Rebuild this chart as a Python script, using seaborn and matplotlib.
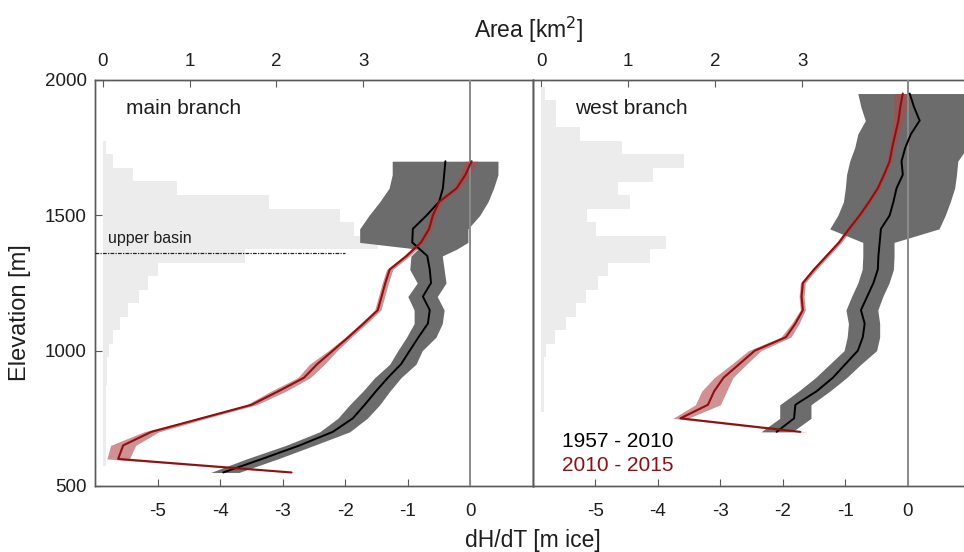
import numpy as np
import pandas as pd
import matplotlib
matplotlib.use("Agg")
import matplotlib.pyplot as plt
import seaborn as sns

sns.set_style("white")
plt.rcParams['font.family'] = ['Liberation Sans', 'DejaVu Sans']
plt.rcParams['axes.unicode_minus'] = False

# --- hypsometry (area per 50 m band, km2) ---
hist_elev_main = [600, 650, 700, 750, 800, 850, 900, 950, 1000, 1050, 1100, 1150,
                  1200, 1250, 1300, 1350, 1400, 1450, 1500, 1550, 1600, 1650, 1700, 1750]
hist_area_main = [0.03, 0.03, 0.03, 0.04, 0.04, 0.04, 0.05, 0.05, 0.07, 0.12, 0.20, 0.29,
                  0.41, 0.52, 0.64, 1.64, 3.17, 2.89, 2.73, 1.91, 0.85, 0.35, 0.12, 0.03]

hist_elev_west = [800, 850, 900, 950, 1000, 1050, 1100, 1150, 1200, 1250, 1300, 1350,
                  1400, 1450, 1500, 1550, 1600, 1650, 1700, 1750, 1800, 1850, 1900, 1950]
hist_area_west = [0.03, 0.03, 0.04, 0.04, 0.06, 0.16, 0.29, 0.40, 0.52, 0.65, 0.77, 1.25,
                  1.44, 0.63, 0.53, 1.02, 0.89, 1.29, 1.64, 0.93, 0.45, 0.17, 0.17, 0.05]

# --- main branch, 1957-2010 ---
elev57_main = [550, 600, 650, 700, 750, 800, 850, 900, 950, 1000, 1050, 1100, 1150,
               1200, 1250, 1300, 1350, 1375, 1400, 1450, 1500, 1550, 1600, 1650, 1700]
dh57_main = [-3.95, -3.33, -2.73, -2.20, -1.88, -1.69, -1.51, -1.32, -1.11, -0.97, -0.83, -0.68, -0.65,
             -0.76, -0.63, -0.65, -0.69, -0.81, -0.93, -0.92, -0.70, -0.50, -0.44, -0.42, -0.40]
lo57_main = [-4.15, -3.58, -2.95, -2.41, -2.12, -1.93, -1.72, -1.53, -1.29, -1.16, -1.02, -0.90, -0.90,
             -1.00, -0.85, -0.97, -0.95, -0.84, -1.77, -1.77, -1.62, -1.45, -1.30, -1.25, -1.25]
hi57_main = [-3.70, -3.08, -2.50, -1.93, -1.65, -1.45, -1.29, -1.11, -0.87, -0.77, -0.55, -0.45, -0.42,
             -0.53, -0.39, -0.42, -0.45, -0.22, -0.04, -0.04, 0.15, 0.28, 0.37, 0.44, 0.44]

# --- main branch, 2010-2015 ---
elev15_main = [550, 600, 650, 700, 750, 800, 850, 900, 950, 1000, 1050, 1100,
               1150, 1200, 1250, 1300, 1350, 1400, 1450, 1500, 1550, 1600, 1650, 1700]
dh15_main = [-2.86, -5.63, -5.55, -5.10, -4.30, -3.50, -3.07, -2.66, -2.45, -2.20, -1.95, -1.71,
             -1.48, -1.42, -1.36, -1.29, -1.02, -0.79, -0.66, -0.60, -0.50, -0.22, -0.08, 0.02]
err15_main = [0.08, 0.18, 0.20, 0.12, 0.08, 0.08, 0.12, 0.10, 0.12, 0.07, 0.05, 0.05,
              0.05, 0.05, 0.05, 0.05, 0.05, 0.05, 0.05, 0.05, 0.06, 0.06, 0.08, 0.10]

# --- west branch ---
elev_west = [700, 750, 800, 850, 900, 950, 1000, 1050, 1100, 1150, 1200, 1250, 1300,
             1350, 1400, 1450, 1500, 1550, 1600, 1650, 1700, 1750, 1800, 1850, 1900, 1950]
dh57_west = [-2.10, -1.82, -1.80, -1.46, -1.20, -1.00, -0.80, -0.72, -0.69, -0.75, -0.65, -0.55, -0.48,
             -0.47, -0.45, -0.43, -0.29, -0.23, -0.18, -0.08, -0.10, -0.04, 0.05, 0.19, 0.10, 0.03]
lo57_west = [-2.35, -2.05, -2.05, -1.75, -1.48, -1.25, -1.02, -0.97, -0.95, -0.99, -0.90, -0.80, -0.73,
             -0.72, -0.72, -1.25, -1.12, -1.03, -1.00, -0.98, -0.93, -0.85, -0.80, -0.68, -0.75, -0.80]
hi57_west = [-1.85, -1.55, -1.55, -1.25, -0.98, -0.75, -0.50, -0.45, -0.45, -0.48, -0.40, -0.30, -0.23,
             -0.22, -0.22, 0.50, 0.60, 0.68, 0.75, 0.78, 0.80, 0.95, 1.00, 1.00, 1.00, 1.00]
dh15_west = [-1.72, -3.64, -3.20, -3.10, -2.95, -2.70, -2.45, -1.95, -1.80, -1.68, -1.70, -1.68, -1.50,
             -1.30, -1.10, -0.94, -0.77, -0.62, -0.48, -0.38, -0.29, -0.25, -0.20, -0.15, -0.12, -0.08]
err15_west = [0.10, 0.12, 0.20, 0.20, 0.15, 0.12, 0.10, 0.08, 0.06, 0.04, 0.04, 0.04, 0.04,
              0.04, 0.04, 0.04, 0.04, 0.04, 0.04, 0.04, 0.04, 0.05, 0.06, 0.08, 0.10, 0.14]

c_band = '#6c6c6c'
c_red = '#8e1010'
c_hist = '#ececec'
c_axis = '#5a5a5a'
c_text = '#1e1e1e'

fig = plt.figure(figsize=(9.64, 5.52), dpi=100)
axL = fig.add_axes([95/964, 66/552, 438/964, 406/552])
axR = fig.add_axes([533/964, 66/552, 431/964, 406/552])


def panel(ax, h_elev, h_area, e57, d57, lo57, hi57, e15, d15, err15, xmax_dh, xmax_area):
    # histogram of area, read on the top axis
    hdf = pd.DataFrame({'elev': h_elev, 'area': h_area})
    sns.barplot(data=hdf, x='area', y='elev', orient='y', native_scale=True, width=1.0,
                color=c_hist, saturation=1, linewidth=0, ax=ax, zorder=1)
    ax.set_xlim(-0.092, xmax_area)
    ax.set_ylim(500, 2000)
    ax.set_xticks([0, 1, 2, 3])
    ax.set_xlabel('')
    ax.set_ylabel('')

    axd = ax.twiny()
    axd.fill_betweenx(e57, lo57, hi57, color=c_band, lw=0, zorder=2)
    lo15 = np.array(d15) - np.array(err15)
    hi15 = np.array(d15) + np.array(err15)
    axd.fill_betweenx(e15, lo15, hi15, color='#b04848', alpha=0.6, lw=0, zorder=3)
    axd.axvline(0, color='#8a8a8a', lw=1.4, zorder=4)
    sns.lineplot(x=d57, y=e57, orient='y', color='black', lw=1.4, errorbar=None, ax=axd, zorder=5)
    sns.lineplot(x=d15, y=e15, orient='y', color=c_red, lw=1.5, errorbar=None, ax=axd, zorder=6)
    axd.set_xlim(-6, xmax_dh)
    axd.set_ylim(500, 2000)
    axd.set_xticks([-5, -4, -3, -2, -1, 0])
    axd.set_xlabel('')
    axd.set_ylabel('')

    for a in (ax, axd):
        for s in a.spines.values():
            s.set_color(c_axis)
            s.set_linewidth(1.0)
    ax.tick_params(axis='x', direction='in', length=5, width=0.8, colors=c_axis,
                   labelcolor=c_text, labelsize=13.5, pad=7,
                   top=True, bottom=False, labeltop=True, labelbottom=False)
    axd.tick_params(axis='x', direction='in', length=5, width=0.8, colors=c_axis,
                    labelcolor=c_text, labelsize=13.5, pad=12,
                    top=False, bottom=True, labeltop=False, labelbottom=True)
    return axd


axLd = panel(axL, hist_elev_main, hist_area_main, elev57_main, dh57_main, lo57_main, hi57_main,
             elev15_main, dh15_main, err15_main, 1.0, 4.96)
axRd = panel(axR, hist_elev_west, hist_area_west, elev_west, dh57_west, lo57_west, hi57_west,
             elev_west, dh15_west, err15_west, 0.9, 4.86)

axL.set_yticks([500, 1000, 1500, 2000])
axL.tick_params(axis='y', direction='in', length=5, width=0.8, colors=c_axis,
                labelcolor=c_text, labelsize=13.5, pad=6, left=True, right=False)
axR.set_yticks([])
for a in (axR, axRd):
    a.spines['right'].set_visible(False)

# upper basin line
axLd.plot([-6, -2.0], [1360, 1360], color='#222222', lw=0.9, ls=(0, (3, 1, 1, 1)), zorder=7)
axLd.text(-5.8, 1413, 'upper basin', fontsize=11.5, color=c_text, va='center', ha='left', zorder=8)

axLd.text(-5.5, 1895, 'main branch', fontsize=15, color=c_text, va='center', ha='left')
axRd.text(-5.32, 1895, 'west branch', fontsize=15, color=c_text, va='center', ha='left')
axRd.text(-5.53, 666, '1957 - 2010', fontsize=15, color='black', va='center', ha='left')
axRd.text(-5.53, 574, '2010 - 2015', fontsize=15, color=c_red, va='center', ha='left')

fig.text(529/964, 1 - 30/552, 'Area [km$^2$]', fontsize=16.5, color=c_text, ha='center', va='center')
fig.text(533/964, 1 - 540/552, 'dH/dT [m ice]', fontsize=16.5, color=c_text, ha='center', va='center')
fig.text(20/964, 1 - 313/552, 'Elevation [m]', fontsize=17, color=c_text, ha='center', va='center',
         rotation=90)

fig.savefig('out.png', dpi=100)
